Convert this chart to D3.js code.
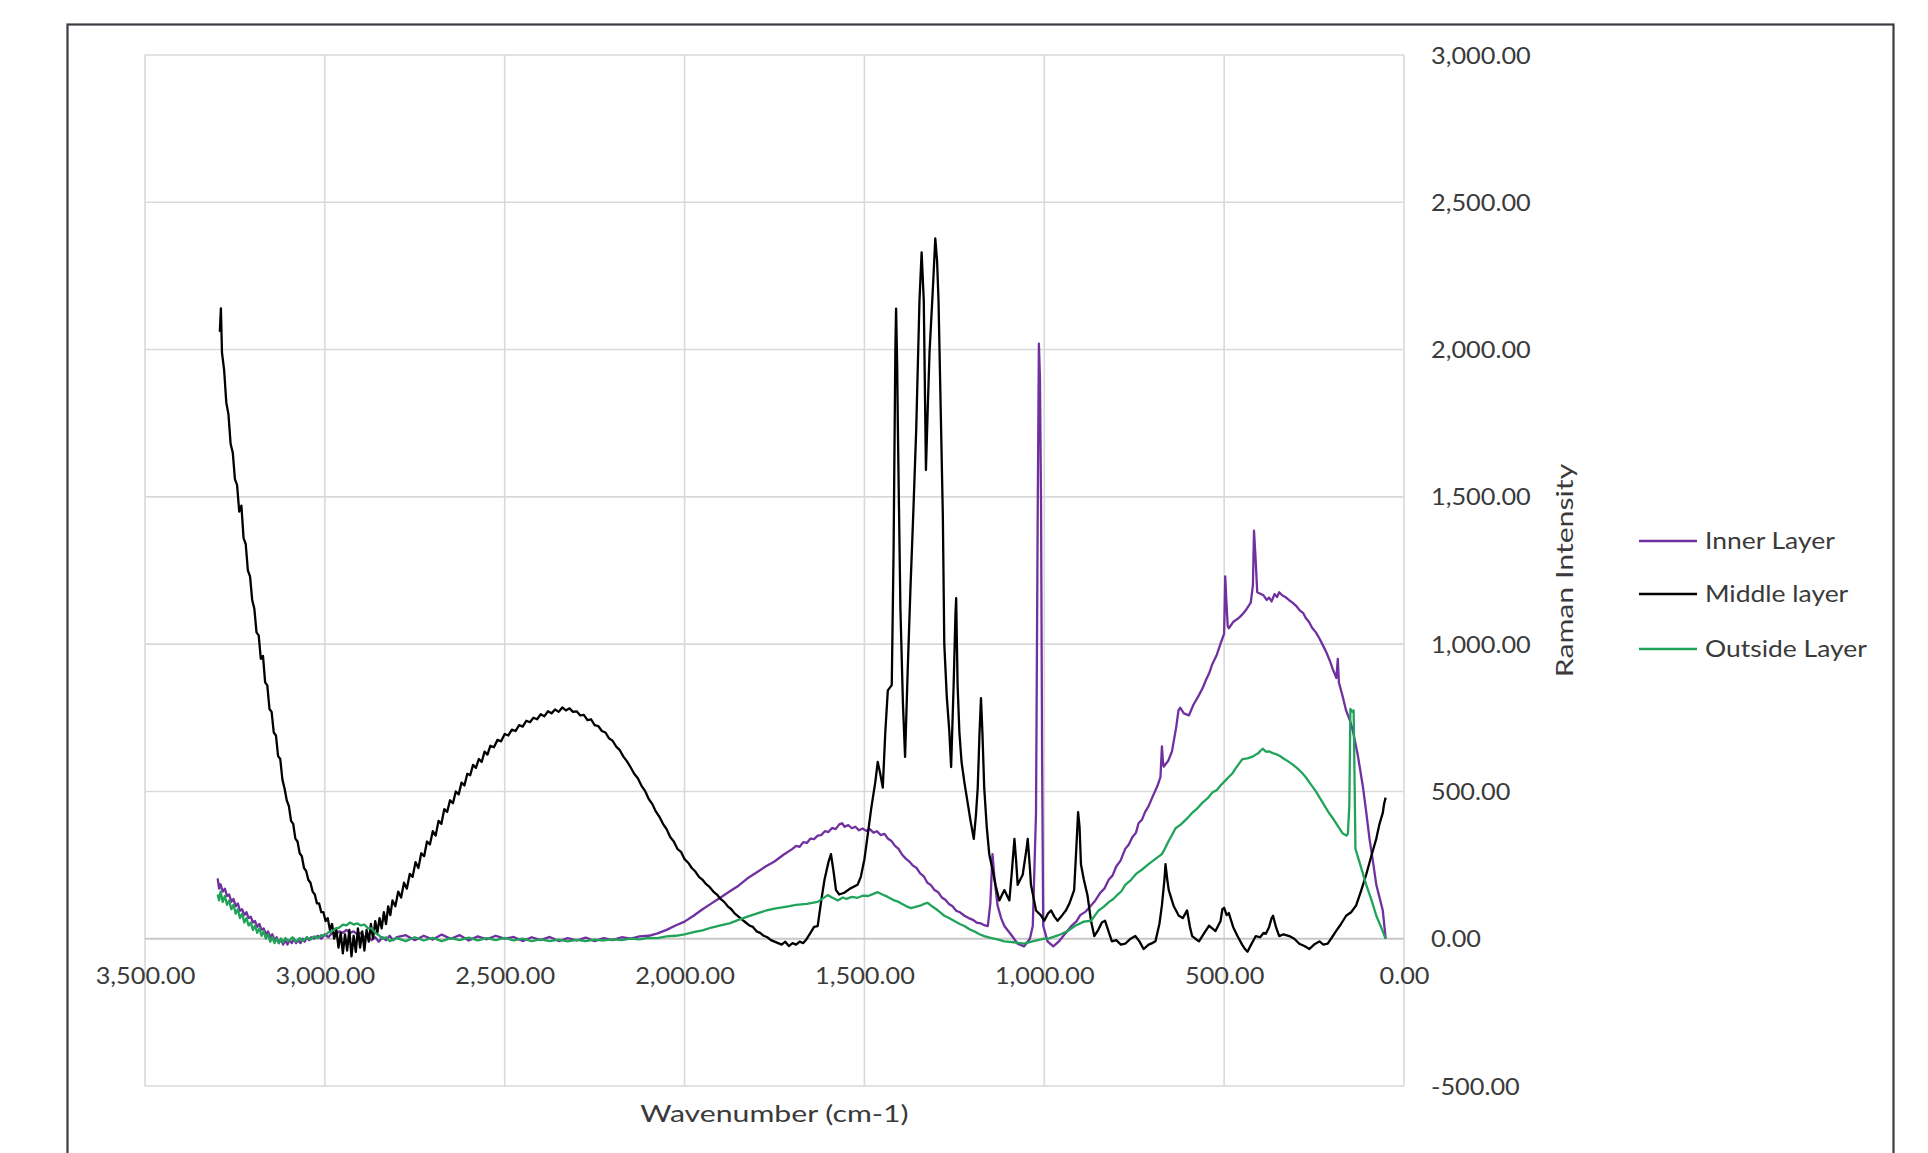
<!DOCTYPE html>
<html>
<head>
<meta charset="utf-8">
<script src="https://cdn.jsdelivr.net/npm/d3@7/dist/d3.min.js"></script>
<style>
  body { margin: 0; background: #fff; }
  text { font-family: Lato, "Open Sans", sans-serif; fill: #3a3a3a; }
</style>
</head>
<body>
<div id="my_dataviz"></div>
<script>
// Axis ticks
const xTicks = [3500, 3000, 2500, 2000, 1500, 1000, 500, 0];
const yTicks = [-500, 0, 500, 1000, 1500, 2000, 2500, 3000];

// Series names and colours
const seriesNames = ["Inner Layer", "Middle layer", "Outside Layer"];
const seriesColors = ["#7030a0", "#000000", "#21a35a"];

// [wavenumber, intensity]
const innerLayer = [
  [3298, 205], [3294, 170], [3290, 185], [3284, 160], [3278, 170], [3272, 145], [3266, 150], [3260, 125],
  [3254, 135], [3248, 110], [3242, 120], [3236, 95], [3230, 100], [3224, 80], [3218, 90], [3212, 70],
  [3206, 75], [3200, 55], [3194, 60], [3188, 40], [3182, 50], [3176, 30], [3170, 35], [3164, 15],
  [3158, 25], [3152, 5], [3146, 15], [3140, -5], [3134, 5], [3128, -15], [3122, 0], [3116, -20],
  [3110, -5], [3104, -20], [3098, -5], [3092, -15], [3086, 0], [3080, -15], [3074, -5], [3068, -15],
  [3062, 0], [3056, -10], [3050, 5], [3044, -5], [3038, 5], [3030, 0], [3020, 10], [3010, 0],
  [3000, 15], [2990, 5], [2980, 20], [2970, 15], [2960, 25], [2950, 20], [2940, 30], [2930, 20],
  [2920, 25], [2910, 15], [2900, 20], [2890, 5], [2880, 10], [2870, -5], [2860, 5], [2850, -10],
  [2840, 5], [2830, -5], [2820, 10], [2810, -5], [2800, 5], [2775, 12], [2750, -5], [2725, 10],
  [2700, -3], [2675, 14], [2650, 0], [2625, 12], [2600, -6], [2575, 8], [2550, -2], [2525, 10],
  [2500, 0], [2475, 6], [2450, -8], [2425, 5], [2400, -5], [2375, 6], [2350, -8], [2325, 2],
  [2300, -6], [2275, 4], [2250, -8], [2225, 2], [2200, -5], [2175, 5], [2150, 0], [2125, 8],
  [2100, 10], [2075, 18], [2050, 30], [2025, 45], [2000, 58], [1975, 78], [1950, 100], [1925, 120],
  [1900, 140], [1875, 160], [1850, 180], [1825, 205], [1800, 225], [1775, 245], [1750, 262], [1725, 285],
  [1700, 305], [1690, 315], [1680, 312], [1670, 328], [1660, 325], [1650, 340], [1640, 338], [1630, 350],
  [1620, 352], [1610, 365], [1600, 362], [1590, 376], [1580, 372], [1570, 388], [1562, 392], [1555, 380],
  [1545, 386], [1535, 375], [1525, 380], [1515, 368], [1505, 374], [1495, 366], [1485, 372], [1475, 360],
  [1465, 365], [1455, 352], [1444, 356], [1435, 340], [1425, 332], [1415, 315], [1405, 305], [1395, 285],
  [1385, 272], [1375, 262], [1365, 248], [1355, 240], [1345, 222], [1335, 212], [1325, 190], [1315, 182],
  [1305, 165], [1295, 158], [1285, 140], [1275, 132], [1265, 118], [1255, 110], [1245, 95], [1235, 90],
  [1222, 78], [1210, 70], [1200, 65], [1188, 55], [1176, 52], [1165, 45], [1157, 43], [1150, 120],
  [1144, 287], [1138, 200], [1130, 113], [1120, 70], [1111, 43], [1090, 10], [1074, -17], [1056, -26],
  [1040, 0], [1032, 43], [1023, 426], [1018, 1500], [1015, 2020], [1012, 1900], [1009, 1470], [1006, 600],
  [1003, 44], [991, -9], [975, -26], [960, -10], [940, 20], [924, 44], [910, 60], [900, 80],
  [885, 92], [870, 113], [858, 130], [845, 155], [833, 170], [821, 200], [810, 215], [800, 245],
  [788, 265], [775, 305], [765, 320], [755, 345], [745, 360], [738, 392], [728, 405], [720, 430],
  [710, 450], [700, 479], [685, 520], [677, 549], [673, 653], [670, 600], [668, 584], [655, 605],
  [645, 636], [633, 720], [627, 775], [622, 784], [612, 765], [598, 758], [585, 795], [570, 827],
  [560, 850], [550, 880], [542, 900], [533, 932], [520, 965], [510, 1002], [500, 1036], [497, 1230],
  [494, 1150], [490, 1060], [487, 1054], [475, 1075], [459, 1089], [450, 1100], [440, 1115], [426, 1141],
  [420, 1200], [417, 1385], [413, 1300], [408, 1176], [398, 1170], [390, 1165], [382, 1150], [375, 1158],
  [368, 1145], [360, 1170], [353, 1160], [347, 1176], [338, 1165], [330, 1160], [320, 1150], [310, 1141],
  [300, 1130], [290, 1115], [280, 1105], [273, 1089], [264, 1075], [255, 1055], [245, 1040], [235, 1019],
  [225, 995], [215, 970], [205, 940], [198, 915], [188, 885], [184, 950], [181, 870], [170, 820],
  [161, 775], [150, 740], [142, 705], [128, 620], [114, 514], [105, 430], [96, 340], [86, 260],
  [77, 183], [68, 140], [59, 96], [51, 0]
];

const middleLayer = [
  [3292, 2060], [3289, 2140], [3286, 1990], [3280, 1930], [3274, 1820], [3268, 1780], [3262, 1680], [3256, 1650],
  [3250, 1560], [3244, 1540], [3238, 1450], [3232, 1470], [3226, 1360], [3220, 1340], [3214, 1250], [3208, 1230],
  [3202, 1150], [3196, 1120], [3190, 1040], [3184, 1030], [3178, 950], [3172, 960], [3166, 870], [3160, 860],
  [3154, 780], [3148, 770], [3142, 700], [3136, 690], [3130, 620], [3124, 610], [3118, 540], [3112, 510],
  [3106, 470], [3100, 450], [3094, 400], [3088, 390], [3082, 340], [3076, 330], [3070, 290], [3064, 280],
  [3058, 240], [3052, 230], [3046, 200], [3040, 190], [3034, 160], [3028, 150], [3022, 120], [3016, 120],
  [3010, 90], [3004, 90], [2998, 60], [2992, 70], [2986, 30], [2980, 50], [2974, 0], [2968, 30],
  [2962, -30], [2956, 20], [2950, -50], [2944, 15], [2938, -40], [2932, 30], [2926, -60], [2920, 10],
  [2914, -45], [2908, 35], [2902, -30], [2896, 25], [2890, -40], [2884, 30], [2878, -10], [2872, 50],
  [2866, 0], [2860, 60], [2854, 20], [2848, 70], [2842, 35], [2836, 90], [2830, 50], [2824, 110],
  [2818, 80], [2812, 130], [2804, 110], [2796, 160], [2788, 140], [2780, 190], [2772, 170], [2764, 220],
  [2756, 210], [2748, 260], [2740, 240], [2732, 290], [2724, 280], [2716, 330], [2708, 320], [2700, 365],
  [2692, 350], [2684, 400], [2676, 390], [2668, 440], [2660, 430], [2652, 470], [2644, 460], [2636, 500],
  [2628, 490], [2620, 530], [2612, 520], [2604, 560], [2596, 555], [2588, 590], [2580, 580], [2572, 610],
  [2564, 600], [2556, 635], [2548, 625], [2540, 655], [2530, 650], [2520, 675], [2510, 670], [2500, 695],
  [2490, 690], [2480, 710], [2470, 705], [2460, 725], [2450, 720], [2440, 740], [2430, 735], [2420, 750],
  [2410, 745], [2400, 762], [2390, 755], [2380, 772], [2370, 765], [2360, 778], [2350, 770], [2340, 785],
  [2330, 775], [2320, 782], [2310, 770], [2300, 772], [2290, 758], [2280, 760], [2270, 742], [2260, 745],
  [2250, 725], [2240, 722], [2230, 705], [2220, 700], [2210, 680], [2200, 672], [2190, 652], [2180, 640],
  [2170, 618], [2160, 602], [2150, 582], [2140, 560], [2130, 545], [2120, 520], [2110, 502], [2100, 475],
  [2090, 458], [2080, 432], [2070, 414], [2060, 390], [2050, 372], [2040, 345], [2030, 330], [2020, 305],
  [2010, 295], [2000, 270], [1990, 258], [1980, 240], [1970, 228], [1960, 210], [1950, 200], [1940, 185],
  [1930, 175], [1920, 160], [1910, 150], [1900, 135], [1890, 125], [1880, 110], [1870, 100], [1860, 85],
  [1850, 75], [1840, 65], [1830, 55], [1820, 45], [1810, 40], [1800, 25], [1790, 20], [1780, 10],
  [1770, 5], [1760, -5], [1750, -10], [1740, -15], [1730, -20], [1720, -10], [1710, -25], [1700, -15],
  [1690, -20], [1680, -10], [1670, -15], [1660, 0], [1650, 20], [1640, 40], [1630, 43], [1620, 130],
  [1611, 200], [1600, 260], [1593, 287], [1586, 230], [1579, 165], [1570, 150], [1556, 156], [1540, 170],
  [1519, 183], [1510, 210], [1500, 270], [1490, 360], [1481, 443], [1470, 530], [1463, 600], [1456, 560],
  [1449, 513], [1442, 700], [1435, 843], [1424, 861], [1419, 1313], [1414, 2000], [1412, 2139], [1409, 1950],
  [1407, 1730], [1400, 1122], [1393, 800], [1387, 617], [1380, 900], [1372, 1191], [1364, 1450], [1356, 1730],
  [1347, 2165], [1341, 2330], [1335, 2165], [1329, 1591], [1324, 1800], [1319, 1991], [1310, 2200], [1303, 2377],
  [1298, 2300], [1294, 2165], [1288, 1800], [1282, 1435], [1278, 1000], [1271, 820], [1264, 704], [1259, 583],
  [1252, 861], [1247, 1100], [1245, 1156], [1241, 861], [1236, 700], [1230, 600], [1222, 530], [1213, 461],
  [1205, 400], [1196, 339], [1190, 420], [1185, 513], [1180, 700], [1176, 817], [1172, 700], [1167, 513],
  [1160, 380], [1153, 287], [1144, 235], [1135, 180], [1125, 130], [1111, 165], [1097, 130], [1090, 230],
  [1083, 339], [1078, 260], [1074, 183], [1060, 217], [1050, 300], [1046, 339], [1040, 240], [1037, 183],
  [1030, 140], [1023, 96], [1010, 80], [1000, 61], [990, 85], [981, 96], [972, 75], [963, 61],
  [950, 80], [940, 96], [930, 120], [917, 165], [910, 330], [906, 430], [902, 380], [898, 252],
  [890, 200], [880, 148], [870, 60], [861, 9], [850, 30], [840, 55], [831, 61], [820, 20],
  [812, -9], [800, -5], [787, -20], [775, -17], [760, 0], [747, 9], [735, -10], [724, -35],
  [710, -20], [700, -15], [691, -9], [680, 50], [673, 113], [666, 200], [663, 253], [658, 200],
  [654, 165], [640, 110], [626, 78], [615, 70], [603, 96], [595, 40], [589, 9], [580, 0],
  [570, -9], [555, 20], [542, 44], [533, 35], [524, 26], [510, 60], [505, 100], [500, 105],
  [493, 80], [487, 87], [475, 40], [463, 9], [450, -20], [442, -35], [435, -44], [425, -20],
  [412, 9], [400, 5], [390, 20], [384, 17], [375, 40], [368, 70], [364, 78], [356, 40],
  [347, 9], [335, 15], [319, 9], [305, 0], [291, -17], [277, -25], [263, -35], [250, -20],
  [235, -9], [224, -20], [212, -17], [200, 5], [189, 26], [175, 50], [161, 78], [147, 90],
  [133, 113], [120, 160], [105, 218], [91, 280], [77, 340], [68, 390], [59, 427], [55, 460],
  [51, 479]
];

const outsideLayer = [
  [3298, 150], [3294, 130], [3290, 160], [3284, 125], [3278, 145], [3272, 115], [3266, 130], [3260, 100],
  [3254, 115], [3248, 85], [3242, 100], [3236, 70], [3230, 85], [3224, 55], [3218, 70], [3212, 45],
  [3206, 55], [3200, 30], [3194, 45], [3188, 20], [3182, 35], [3176, 10], [3170, 25], [3164, 0],
  [3158, 15], [3152, -10], [3146, 5], [3140, -15], [3134, 0], [3128, -15], [3122, 0], [3116, -12],
  [3110, 2], [3100, -8], [3090, 5], [3080, -10], [3070, 2], [3060, -8], [3050, 5], [3040, -3],
  [3030, 8], [3020, 2], [3010, 12], [3000, 10], [2990, 22], [2980, 25], [2970, 35], [2960, 38],
  [2950, 48], [2940, 45], [2930, 55], [2920, 48], [2910, 52], [2900, 45], [2890, 48], [2880, 35],
  [2870, 35], [2860, 20], [2850, 12], [2840, 0], [2830, 5], [2820, -8], [2800, 2], [2775, -8],
  [2750, 5], [2725, -6], [2700, 3], [2675, -8], [2650, 2], [2625, -5], [2600, 4], [2575, -6],
  [2550, 2], [2525, -5], [2500, 3], [2475, -6], [2450, 0], [2425, -8], [2400, -2], [2375, -8],
  [2350, -3], [2325, -9], [2300, -4], [2275, -8], [2250, -3], [2225, -6], [2200, -2], [2175, -5],
  [2150, 0], [2125, -2], [2100, 3], [2075, 2], [2050, 8], [2025, 10], [2000, 15], [1975, 22],
  [1950, 28], [1925, 38], [1900, 45], [1875, 52], [1852, 63], [1825, 75], [1800, 85], [1775, 95],
  [1750, 102], [1716, 109], [1690, 115], [1660, 118], [1630, 125], [1602, 148], [1590, 140], [1574, 130],
  [1560, 140], [1550, 135], [1535, 142], [1519, 139], [1505, 146], [1490, 145], [1475, 152], [1463, 158],
  [1450, 150], [1435, 142], [1417, 130], [1405, 125], [1395, 118], [1383, 110], [1370, 104], [1358, 108],
  [1345, 112], [1335, 118], [1324, 122], [1312, 110], [1300, 100], [1290, 90], [1278, 78], [1265, 70],
  [1250, 60], [1235, 50], [1222, 43], [1208, 32], [1195, 25], [1180, 15], [1167, 9], [1152, 4],
  [1140, 0], [1125, -4], [1111, -9], [1085, -12], [1056, -17], [1030, -8], [1000, 0], [989, 0],
  [960, 12], [935, 26], [914, 44], [890, 58], [870, 61], [849, 96], [835, 108], [820, 125],
  [808, 135], [796, 150], [785, 162], [775, 183], [760, 198], [745, 220], [728, 235], [710, 253],
  [690, 272], [673, 287], [665, 305], [655, 330], [645, 352], [635, 375], [620, 388], [610, 400],
  [600, 412], [589, 427], [575, 442], [560, 462], [545, 478], [533, 496], [520, 505], [510, 520],
  [498, 535], [487, 549], [478, 560], [470, 575], [460, 592], [449, 610], [435, 612], [421, 618],
  [412, 625], [405, 630], [399, 638], [393, 645], [384, 635], [375, 636], [365, 630], [356, 627],
  [345, 620], [335, 612], [322, 602], [310, 592], [298, 580], [285, 565], [273, 548], [263, 531],
  [245, 500], [226, 462], [210, 430], [198, 409], [185, 385], [170, 357], [160, 350], [156, 357],
  [152, 450], [149, 780], [143, 770], [140, 775], [137, 500], [135, 305], [120, 245], [105, 183],
  [90, 130], [77, 78], [64, 40], [51, 0]
];

const allSeries = [innerLayer, middleLayer, outsideLayer];

// Page and plot box
const W = 1928, H = 1153;
const plot = { left: 145, right: 1404, top: 55, bottom: 1086 };

const svg = d3.select("#my_dataviz")
    .append("svg")
    .attr("width", W)
    .attr("height", H)
    .style("display", "block");

// chart frame (runs past the bottom of the picture)
svg.append("rect")
    .attr("x", 67.5).attr("y", 24.5)
    .attr("width", 1826).attr("height", 1200)
    .attr("fill", "#fff")
    .attr("stroke", "#3c3c44")
    .attr("stroke-width", 2.2);

const x = d3.scaleLinear().domain([3500, 0]).range([plot.left, plot.right]);
const y = d3.scaleLinear().domain([-500, 3000]).range([plot.bottom, plot.top]);
const fmt = d => d3.format(",.2f")(d).replace("\u2212", "-");

// stretch text a little to match the wide rendering of the original
function stretch(sel, k) {
  sel.each(function() {
    const w = this.getComputedTextLength();
    d3.select(this).attr("textLength", w * k).attr("lengthAdjust", "spacingAndGlyphs");
  });
}

// Gridlines
svg.append("g")
    .selectAll("line")
    .data(xTicks)
    .join("line")
    .attr("x1", d => x(d)).attr("x2", d => x(d))
    .attr("y1", plot.top).attr("y2", plot.bottom)
    .attr("stroke", "#d9d9d9").attr("stroke-width", 1.6);

svg.append("g")
    .selectAll("line")
    .data(yTicks)
    .join("line")
    .attr("x1", plot.left).attr("x2", plot.right)
    .attr("y1", d => y(d)).attr("y2", d => y(d))
    .attr("stroke", d => d === 0 ? "#c8c8c8" : "#d9d9d9")
    .attr("stroke-width", d => d === 0 ? 2 : 1.6);

// X axis labels sit under the zero line
const xAxis = svg.append("g")
    .attr("transform", `translate(0,${y(0)})`)
    .call(d3.axisBottom(x).tickValues(xTicks).tickFormat(fmt).tickSize(0));
xAxis.select(".domain").remove();
xAxis.selectAll("text")
    .attr("y", 37).attr("dy", "0.35em")
    .style("font-size", "23px").style("font-family", "Lato, sans-serif").attr("fill", "#3a3a3a")
    .call(stretch, 1.1);

// Y axis labels on the right
const yAxis = svg.append("g")
    .attr("transform", `translate(${plot.right},0)`)
    .call(d3.axisRight(y).tickValues(yTicks).tickFormat(fmt).tickSize(0).tickPadding(27));
yAxis.select(".domain").remove();
yAxis.selectAll("text")
    .attr("dy", "0.35em")
    .style("font-size", "23px").style("font-family", "Lato, sans-serif").attr("fill", "#3a3a3a")
    .call(stretch, 1.1);

// Series
const line = d3.line().x(d => x(d[0])).y(d => y(d[1]));
svg.append("g")
    .selectAll("path")
    .data(allSeries)
    .join("path")
    .attr("d", line)
    .attr("fill", "none")
    .attr("stroke", (d, i) => seriesColors[i])
    .attr("stroke-width", 2.3)
    .attr("stroke-linejoin", "round");

// Axis titles
svg.append("text")
    .attr("x", (plot.left + plot.right) / 2)
    .attr("y", 1114)
    .attr("dy", "0.35em")
    .attr("text-anchor", "middle")
    .style("font-size", "24px")
    .text("Wavenumber (cm-1)")
    .call(stretch, 1.26);

svg.append("text")
    .attr("transform", `translate(1565,${(plot.top + plot.bottom) / 2}) rotate(-90)`)
    .attr("dy", "0.35em")
    .attr("text-anchor", "middle")
    .style("font-size", "24px")
    .text("Raman Intensity")
    .call(stretch, 1.26);

// Legend
const legend = svg.append("g")
    .selectAll("g")
    .data(seriesNames)
    .join("g")
    .attr("transform", (d, i) => `translate(1639,${[541, 594, 649][i]})`);

legend.append("line")
    .attr("x1", 0).attr("x2", 58)
    .attr("stroke", (d, i) => seriesColors[i])
    .attr("stroke-width", 2.4);

legend.append("text")
    .attr("x", 66)
    .attr("dy", "0.35em")
    .style("font-size", "23px")
    .text(d => d)
    .call(stretch, 1.15);
</script>
</body>
</html>
